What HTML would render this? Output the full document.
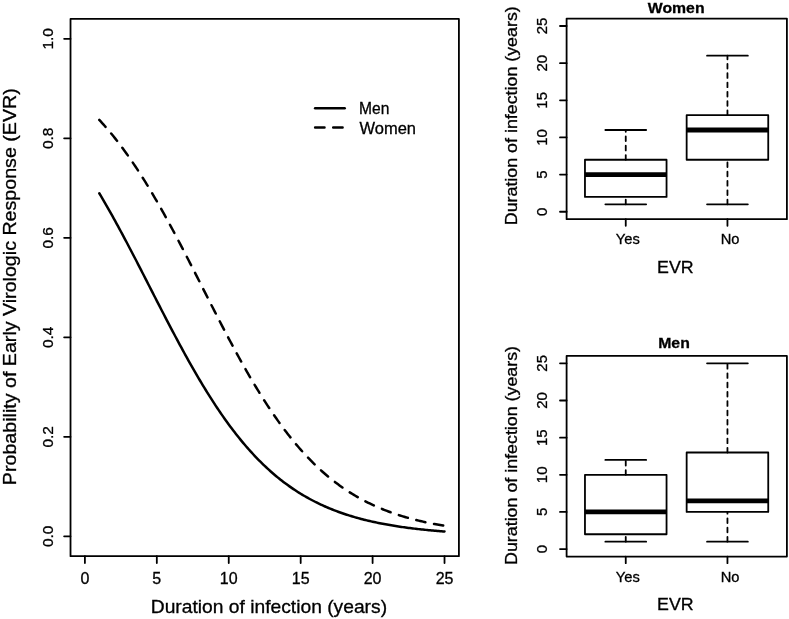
<!DOCTYPE html>
<html lang="en"><head><meta charset="utf-8"><title>EVR figure</title>
<style>html,body{margin:0;padding:0;background:#fff}body{width:789px;height:619px;overflow:hidden}svg{display:block;will-change:transform}text{font-family:'Liberation Sans', Arial, Helvetica, sans-serif;fill:#000;stroke:#000;stroke-width:0.3px}.l{stroke:#000;stroke-width:1.8;fill:none;stroke-linecap:round;stroke-linejoin:round}.c{stroke:#000;stroke-width:2.5;fill:none;stroke-linecap:round;stroke-linejoin:round}</style></head><body>
<svg width="789" height="619" viewBox="0 0 789 619">
<rect width="789" height="619" fill="#fff"/>
<g id="main">
<rect class="l" x="70.52" y="18.9" width="388.39" height="537.3"/>
<path class="l" d="M84.9 556.2v6.9M156.82 556.2v6.9M228.75 556.2v6.9M300.68 556.2v6.9M372.6 556.2v6.9M444.52 556.2v6.9M70.52 536.3h-6.4M70.52 436.8h-6.4M70.52 337.3h-6.4M70.52 237.8h-6.4M70.52 138.3h-6.4M70.52 38.8h-6.4"/>
<text transform="translate(84.9 584.2)" font-size="16" text-anchor="middle">0</text>
<text transform="translate(156.82 584.2)" font-size="16" text-anchor="middle">5</text>
<text transform="translate(228.75 584.2)" font-size="16" text-anchor="middle">10</text>
<text transform="translate(300.68 584.2)" font-size="16" text-anchor="middle">15</text>
<text transform="translate(372.6 584.2)" font-size="16" text-anchor="middle">20</text>
<text transform="translate(444.52 584.2)" font-size="16" text-anchor="middle">25</text>
<text transform="translate(53.4 536.3) rotate(-90)" font-size="15.5" text-anchor="middle">0.0</text>
<text transform="translate(53.4 436.8) rotate(-90)" font-size="15.5" text-anchor="middle">0.2</text>
<text transform="translate(53.4 337.3) rotate(-90)" font-size="15.5" text-anchor="middle">0.4</text>
<text transform="translate(53.4 237.8) rotate(-90)" font-size="15.5" text-anchor="middle">0.6</text>
<text transform="translate(53.4 138.3) rotate(-90)" font-size="15.5" text-anchor="middle">0.8</text>
<text transform="translate(53.4 38.8) rotate(-90)" font-size="15.5" text-anchor="middle">1.0</text>
<text transform="translate(268.9 612.7) scale(1.069 1)" font-size="18" text-anchor="middle">Duration of infection (years)</text>
<text transform="translate(16.1 286.7) rotate(-90) scale(1.1038 1)" font-size="17.8" text-anchor="middle">Probability of Early Virologic Response (EVR)</text>
<path class="c" d="M99.29 193.25 L100.72 195.67 L102.16 198.11 L103.6 200.57 L105.04 203.05 L106.48 205.55 L107.92 208.06 L109.35 210.6 L110.79 213.15 L112.23 215.72 L113.67 218.31 L115.11 220.91 L116.55 223.53 L117.99 226.17 L119.42 228.82 L120.86 231.48 L122.3 234.16 L123.74 236.85 L125.18 239.55 L126.62 242.26 L128.06 244.99 L129.49 247.72 L130.93 250.47 L132.37 253.23 L133.81 255.99 L135.25 258.76 L136.69 261.54 L138.12 264.33 L139.56 267.12 L141 269.92 L142.44 272.72 L143.88 275.52 L145.32 278.33 L146.76 281.14 L148.19 283.95 L149.63 286.77 L151.07 289.58 L152.51 292.39 L153.95 295.2 L155.39 298.01 L156.82 300.82 L158.26 303.62 L159.7 306.42 L161.14 309.22 L162.58 312.01 L164.02 314.79 L165.46 317.57 L166.89 320.33 L168.33 323.1 L169.77 325.85 L171.21 328.59 L172.65 331.32 L174.09 334.04 L175.53 336.75 L176.96 339.45 L178.4 342.13 L179.84 344.8 L181.28 347.46 L182.72 350.1 L184.16 352.73 L185.59 355.34 L187.03 357.94 L188.47 360.52 L189.91 363.08 L191.35 365.63 L192.79 368.15 L194.23 370.66 L195.66 373.15 L197.1 375.62 L198.54 378.07 L199.98 380.5 L201.42 382.91 L202.86 385.3 L204.3 387.67 L205.73 390.02 L207.17 392.34 L208.61 394.65 L210.05 396.93 L211.49 399.19 L212.93 401.42 L214.37 403.63 L215.8 405.82 L217.24 407.99 L218.68 410.13 L220.12 412.25 L221.56 414.34 L223 416.41 L224.43 418.46 L225.87 420.48 L227.31 422.48 L228.75 424.45 L230.19 426.4 L231.63 428.33 L233.07 430.23 L234.5 432.1 L235.94 433.95 L237.38 435.78 L238.82 437.58 L240.26 439.36 L241.7 441.11 L243.13 442.84 L244.57 444.55 L246.01 446.23 L247.45 447.88 L248.89 449.52 L250.33 451.12 L251.77 452.71 L253.2 454.27 L254.64 455.81 L256.08 457.32 L257.52 458.81 L258.96 460.28 L260.4 461.73 L261.84 463.15 L263.27 464.55 L264.71 465.93 L266.15 467.28 L267.59 468.62 L269.03 469.93 L270.47 471.22 L271.9 472.49 L273.34 473.74 L274.78 474.96 L276.22 476.17 L277.66 477.35 L279.1 478.52 L280.54 479.67 L281.97 480.79 L283.41 481.9 L284.85 482.98 L286.29 484.05 L287.73 485.1 L289.17 486.13 L290.61 487.14 L292.04 488.13 L293.48 489.11 L294.92 490.07 L296.36 491.01 L297.8 491.93 L299.24 492.83 L300.68 493.72 L302.11 494.59 L303.55 495.45 L304.99 496.29 L306.43 497.12 L307.87 497.92 L309.31 498.72 L310.74 499.5 L312.18 500.26 L313.62 501.01 L315.06 501.74 L316.5 502.46 L317.94 503.17 L319.38 503.86 L320.81 504.54 L322.25 505.21 L323.69 505.86 L325.13 506.5 L326.57 507.13 L328.01 507.74 L329.44 508.35 L330.88 508.94 L332.32 509.52 L333.76 510.08 L335.2 510.64 L336.64 511.18 L338.08 511.72 L339.51 512.24 L340.95 512.75 L342.39 513.26 L343.83 513.75 L345.27 514.23 L346.71 514.7 L348.15 515.17 L349.58 515.62 L351.02 516.06 L352.46 516.5 L353.9 516.92 L355.34 517.34 L356.78 517.75 L358.22 518.15 L359.65 518.54 L361.09 518.92 L362.53 519.3 L363.97 519.67 L365.41 520.02 L366.85 520.38 L368.28 520.72 L369.72 521.06 L371.16 521.39 L372.6 521.71 L374.04 522.03 L375.48 522.34 L376.92 522.65 L378.35 522.94 L379.79 523.23 L381.23 523.52 L382.67 523.8 L384.11 524.07 L385.55 524.34 L386.99 524.6 L388.42 524.85 L389.86 525.1 L391.3 525.35 L392.74 525.59 L394.18 525.82 L395.62 526.05 L397.05 526.28 L398.49 526.5 L399.93 526.71 L401.37 526.92 L402.81 527.13 L404.25 527.33 L405.69 527.53 L407.12 527.72 L408.56 527.91 L410 528.09 L411.44 528.27 L412.88 528.45 L414.32 528.62 L415.75 528.79 L417.19 528.96 L418.63 529.12 L420.07 529.28 L421.51 529.43 L422.95 529.58 L424.39 529.73 L425.82 529.88 L427.26 530.02 L428.7 530.16 L430.14 530.29 L431.58 530.43 L433.02 530.56 L434.46 530.68 L435.89 530.81 L437.33 530.93 L438.77 531.05 L440.21 531.16 L441.65 531.28 L443.09 531.39 L444.52 531.5"/>
<path class="c" stroke-dasharray="9.35 8.76" d="M99.29 119.9 L100.72 121.46 L102.16 123.04 L103.6 124.65 L105.04 126.28 L106.48 127.94 L107.92 129.62 L109.35 131.32 L110.79 133.05 L112.23 134.8 L113.67 136.58 L115.11 138.39 L116.55 140.22 L117.99 142.07 L119.42 143.95 L120.86 145.85 L122.3 147.78 L123.74 149.73 L125.18 151.71 L126.62 153.71 L128.06 155.74 L129.49 157.79 L130.93 159.87 L132.37 161.97 L133.81 164.09 L135.25 166.24 L136.69 168.42 L138.12 170.61 L139.56 172.83 L141 175.08 L142.44 177.35 L143.88 179.64 L145.32 181.95 L146.76 184.29 L148.19 186.64 L149.63 189.02 L151.07 191.42 L152.51 193.85 L153.95 196.29 L155.39 198.76 L156.82 201.24 L158.26 203.74 L159.7 206.27 L161.14 208.81 L162.58 211.37 L164.02 213.95 L165.46 216.55 L166.89 219.16 L168.33 221.79 L169.77 224.43 L171.21 227.09 L172.65 229.77 L174.09 232.46 L175.53 235.16 L176.96 237.88 L178.4 240.61 L179.84 243.35 L181.28 246.1 L182.72 248.86 L184.16 251.63 L185.59 254.42 L187.03 257.21 L188.47 260 L189.91 262.81 L191.35 265.62 L192.79 268.43 L194.23 271.26 L195.66 274.08 L197.1 276.91 L198.54 279.74 L199.98 282.58 L201.42 285.41 L202.86 288.25 L204.3 291.08 L205.73 293.92 L207.17 296.75 L208.61 299.58 L210.05 302.41 L211.49 305.23 L212.93 308.05 L214.37 310.86 L215.8 313.67 L217.24 316.47 L218.68 319.27 L220.12 322.05 L221.56 324.83 L223 327.6 L224.43 330.35 L225.87 333.1 L227.31 335.83 L228.75 338.56 L230.19 341.27 L231.63 343.96 L233.07 346.65 L234.5 349.31 L235.94 351.97 L237.38 354.61 L238.82 357.23 L240.26 359.83 L241.7 362.42 L243.13 364.99 L244.57 367.54 L246.01 370.07 L247.45 372.59 L248.89 375.08 L250.33 377.56 L251.77 380.01 L253.2 382.45 L254.64 384.86 L256.08 387.25 L257.52 389.62 L258.96 391.97 L260.4 394.29 L261.84 396.59 L263.27 398.87 L264.71 401.13 L266.15 403.36 L267.59 405.57 L269.03 407.76 L270.47 409.92 L271.9 412.05 L273.34 414.17 L274.78 416.26 L276.22 418.32 L277.66 420.36 L279.1 422.38 L280.54 424.37 L281.97 426.33 L283.41 428.27 L284.85 430.19 L286.29 432.08 L287.73 433.94 L289.17 435.79 L290.61 437.6 L292.04 439.39 L293.48 441.16 L294.92 442.9 L296.36 444.62 L297.8 446.31 L299.24 447.98 L300.68 449.62 L302.11 451.24 L303.55 452.84 L304.99 454.41 L306.43 455.96 L307.87 457.48 L309.31 458.98 L310.74 460.46 L312.18 461.92 L313.62 463.35 L315.06 464.75 L316.5 466.14 L317.94 467.5 L319.38 468.84 L320.81 470.16 L322.25 471.46 L323.69 472.73 L325.13 473.99 L326.57 475.22 L328.01 476.43 L329.44 477.62 L330.88 478.79 L332.32 479.94 L333.76 481.07 L335.2 482.18 L336.64 483.27 L338.08 484.34 L339.51 485.39 L340.95 486.42 L342.39 487.44 L343.83 488.43 L345.27 489.41 L346.71 490.37 L348.15 491.31 L349.58 492.24 L351.02 493.14 L352.46 494.03 L353.9 494.91 L355.34 495.76 L356.78 496.6 L358.22 497.43 L359.65 498.24 L361.09 499.03 L362.53 499.81 L363.97 500.57 L365.41 501.32 L366.85 502.06 L368.28 502.78 L369.72 503.48 L371.16 504.17 L372.6 504.85 L374.04 505.52 L375.48 506.17 L376.92 506.81 L378.35 507.44 L379.79 508.05 L381.23 508.65 L382.67 509.24 L384.11 509.82 L385.55 510.38 L386.99 510.94 L388.42 511.48 L389.86 512.01 L391.3 512.53 L392.74 513.04 L394.18 513.55 L395.62 514.04 L397.05 514.52 L398.49 514.99 L399.93 515.45 L401.37 515.9 L402.81 516.34 L404.25 516.77 L405.69 517.19 L407.12 517.61 L408.56 518.01 L410 518.41 L411.44 518.8 L412.88 519.18 L414.32 519.55 L415.75 519.92 L417.19 520.28 L418.63 520.63 L420.07 520.97 L421.51 521.3 L422.95 521.63 L424.39 521.95 L425.82 522.27 L427.26 522.57 L428.7 522.88 L430.14 523.17 L431.58 523.46 L433.02 523.74 L434.46 524.02 L435.89 524.29 L437.33 524.55 L438.77 524.81 L440.21 525.06 L441.65 525.31 L443.09 525.55 L444.52 525.79"/>
<path class="c" d="M315.1 108.2H344.7"/>
<path class="c" stroke-dasharray="9.4 8.7" d="M315.1 127.5H344.7"/>
<text transform="translate(359 113.9) scale(0.975 1)" font-size="16">Men</text>
<text transform="translate(359.5 133.7) scale(1.03 1)" font-size="16">Women</text>
</g>
<g id="women">
<rect class="l" x="566.6" y="18.57" width="220.3" height="200.61"/>
<path class="l" d="M566.6 211.75h-6.6M566.6 174.6h-6.6M566.6 137.45h-6.6M566.6 100.3h-6.6M566.6 63.15h-6.6M566.6 26h-6.6M625.75 219.18v6.6M727.45 219.18v6.6"/>
<text transform="translate(547.1 211.75) rotate(-90)" font-size="15" text-anchor="middle">0</text>
<text transform="translate(547.1 174.6) rotate(-90)" font-size="15" text-anchor="middle">5</text>
<text transform="translate(547.1 137.45) rotate(-90)" font-size="15" text-anchor="middle">10</text>
<text transform="translate(547.1 100.3) rotate(-90)" font-size="15" text-anchor="middle">15</text>
<text transform="translate(547.1 63.15) rotate(-90)" font-size="15" text-anchor="middle">20</text>
<text transform="translate(547.1 26) rotate(-90)" font-size="15" text-anchor="middle">25</text>
<text transform="translate(627.75 244.28) scale(1.05 1)" font-size="14" text-anchor="middle">Yes</text>
<text transform="translate(730.15 244.28) scale(1.05 1)" font-size="14" text-anchor="middle">No</text>
<text transform="translate(675.4 273.08) scale(1.065 1)" font-size="16.7" text-anchor="middle">EVR</text>
<text transform="translate(517 115.75) rotate(-90) scale(1.0875 1)" font-size="16.4" text-anchor="middle">Duration of infection (years)</text>
<text transform="translate(676.2 13.3) scale(1.025 1)" font-size="15.4" text-anchor="middle" font-weight="bold">Women</text>
<path class="l" stroke-dasharray="4.66 4.66" d="M625.75 159.74V130.02M625.75 204.32V196.89"/>
<path class="l" d="M605.36 130.02H646.15M605.36 204.32H646.15"/>
<rect class="l" x="584.96" y="159.74" width="81.59" height="37.15" fill="#fff"/>
<path d="M584.96 174.6H666.55" stroke="#000" stroke-width="4.8" fill="none"/>
<path class="l" stroke-dasharray="4.66 4.66" d="M727.45 115.16V55.72M727.45 204.32V159.74"/>
<path class="l" d="M707.05 55.72H747.84M707.05 204.32H747.84"/>
<rect class="l" x="686.65" y="115.16" width="81.59" height="44.58" fill="#fff"/>
<path d="M686.65 130.02H768.24" stroke="#000" stroke-width="4.8" fill="none"/>
</g>
<g id="men">
<rect class="l" x="566.6" y="355.92" width="220.3" height="200.61"/>
<path class="l" d="M566.6 549.1h-6.6M566.6 511.95h-6.6M566.6 474.8h-6.6M566.6 437.65h-6.6M566.6 400.5h-6.6M566.6 363.35h-6.6M625.75 556.53v6.6M727.45 556.53v6.6"/>
<text transform="translate(547.1 549.1) rotate(-90)" font-size="15" text-anchor="middle">0</text>
<text transform="translate(547.1 511.95) rotate(-90)" font-size="15" text-anchor="middle">5</text>
<text transform="translate(547.1 474.8) rotate(-90)" font-size="15" text-anchor="middle">10</text>
<text transform="translate(547.1 437.65) rotate(-90)" font-size="15" text-anchor="middle">15</text>
<text transform="translate(547.1 400.5) rotate(-90)" font-size="15" text-anchor="middle">20</text>
<text transform="translate(547.1 363.35) rotate(-90)" font-size="15" text-anchor="middle">25</text>
<text transform="translate(627.75 581.63) scale(1.05 1)" font-size="14" text-anchor="middle">Yes</text>
<text transform="translate(730.15 581.63) scale(1.05 1)" font-size="14" text-anchor="middle">No</text>
<text transform="translate(675.4 610.43) scale(1.065 1)" font-size="16.7" text-anchor="middle">EVR</text>
<text transform="translate(517 455.45) rotate(-90) scale(1.0875 1)" font-size="16.4" text-anchor="middle">Duration of infection (years)</text>
<text transform="translate(674 348.4) scale(1.025 1)" font-size="15.4" text-anchor="middle" font-weight="bold">Men</text>
<path class="l" stroke-dasharray="4.66 4.66" d="M625.75 474.8V459.94M625.75 541.67V534.24"/>
<path class="l" d="M605.36 459.94H646.15M605.36 541.67H646.15"/>
<rect class="l" x="584.96" y="474.8" width="81.59" height="59.44" fill="#fff"/>
<path d="M584.96 511.95H666.55" stroke="#000" stroke-width="4.8" fill="none"/>
<path class="l" stroke-dasharray="4.66 4.66" d="M727.45 452.51V363.35M727.45 541.67V511.95"/>
<path class="l" d="M707.05 363.35H747.84M707.05 541.67H747.84"/>
<rect class="l" x="686.65" y="452.51" width="81.59" height="59.44" fill="#fff"/>
<path d="M686.65 500.81H768.24" stroke="#000" stroke-width="4.8" fill="none"/>
</g>
</svg></body></html>
